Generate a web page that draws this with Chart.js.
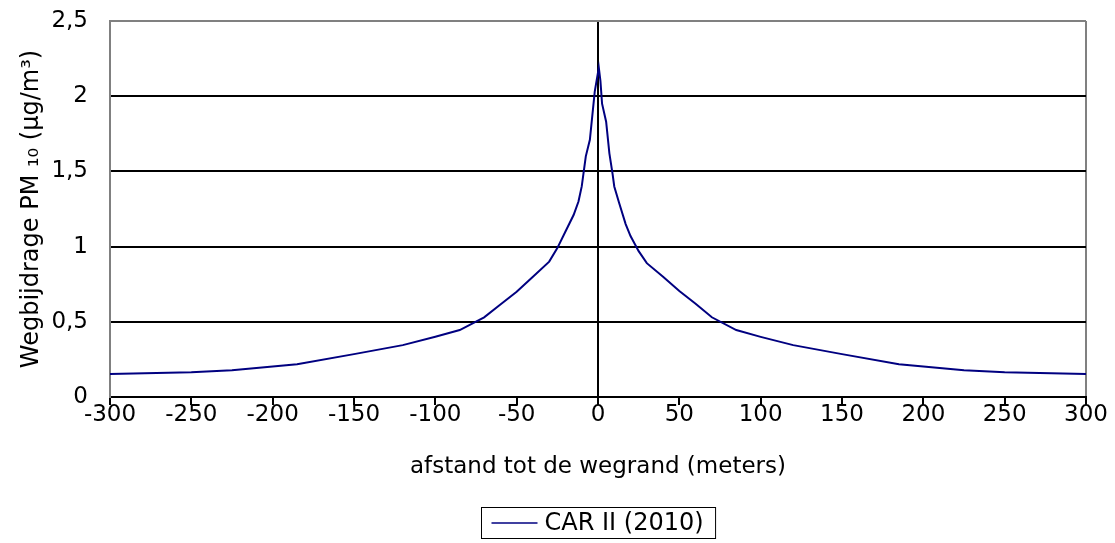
<!DOCTYPE html>
<html>
<head>
<meta charset="utf-8">
<script src="https://cdn.jsdelivr.net/npm/chart.js@4.4.1/dist/chart.umd.min.js"></script>
<style>
  html, body { margin: 0; padding: 0; background: #fff; }
  #wrap { width: 1115px; height: 543px; }
</style>
</head>
<body>
<div id="wrap"><canvas id="chart" width="1115" height="543"></canvas></div>
<script>
// distance to road edge (m) and PM10 contribution (ug/m3)
const distances = [-300,-250,-225,-185,-150,-120,-100,-85,-70,-60,
  -50,-40,-30,-25,-20,-15,-12,-10,-8.5,-7.5,
  -5,-2,0.5,1.5,2.5,5,7,9,10,13,
  17,20,25,30,40,50,60,70,85,100,
  120,150,185,225,250,300];
const pm10 = [0.153,0.165,0.178,0.218,0.285,0.345,0.40,0.445,0.53,0.615,
  0.70,0.80,0.90,0.99,1.10,1.21,1.30,1.40,1.52,1.60,
  1.71,2.03,2.19,2.10,1.95,1.83,1.62,1.48,1.40,1.29,
  1.15,1.07,0.97,0.89,0.80,0.705,0.62,0.53,0.445,0.40,
  0.345,0.285,0.218,0.178,0.165,0.153];
const seriesLabel = 'CAR II (2010)';
const xTitle = 'afstand tot de wegrand (meters)';
const yTitle = 'Wegbijdrage PM \u2081\u2080 (\u00b5g/m\u00b3)';

const FONT = 'DejaVu Sans';
const FS = 23;
Chart.defaults.font.family = FONT;
Chart.defaults.font.size = FS;
Chart.defaults.color = '#000';

// boxed legend under the axis title
const boxLegend = {
  id: 'boxLegend',
  afterDraw(chart) {
    const ctx = chart.ctx;
    const ds = chart.data.datasets[0];
    const area = chart.chartArea;
    ctx.save();
    ctx.font = '24px "' + FONT + '"';
    const tw = ctx.measureText(ds.label).width;
    const lineLen = 46, gap = 7, padL = 10, padR = 12;
    const w = padL + lineLen + gap + tw + padR;
    const left = Math.round((area.left + area.right) / 2 - w / 2) + 0.5;
    const top = 507.5, h = 31;
    ctx.strokeStyle = '#000';
    ctx.lineWidth = 1;
    ctx.strokeRect(left, top, w, h);
    const cy = top + h / 2;
    ctx.strokeStyle = ds.borderColor;
    ctx.lineWidth = 1.5;
    ctx.beginPath();
    ctx.moveTo(left + padL, cy);
    ctx.lineTo(left + padL + lineLen, cy);
    ctx.stroke();
    ctx.fillStyle = '#000';
    ctx.textBaseline = 'middle';
    ctx.textAlign = 'left';
    ctx.fillText(ds.label, left + padL + lineLen + gap, cy + 1);
    ctx.restore();
  }
};

new Chart(document.getElementById('chart'), {
  type: 'line',
  data: {
    datasets: [{
      label: seriesLabel,
      data: distances.map((d, i) => ({ x: d, y: pm10[i] })),
      borderColor: '#000080',
      borderWidth: 2,
      pointRadius: 0,
      tension: 0,
      fill: false
    }]
  },
  options: {
    responsive: false,
    animation: false,
    layout: { padding: { top: 21, right: 29, left: 0, bottom: 0 } },
    plugins: { legend: { display: false }, tooltip: { enabled: false } },
    scales: {
      x: {
        type: 'linear',
        min: -300, max: 300,
        afterFit: s => { s.height = 146; },
        ticks: { stepSize: 50, padding: -4, maxRotation: 0, autoSkip: false },
        grid: {
          color: c => (c.tick.value === -300 || c.tick.value === 300) ? '#808080' : (c.tick.value === 0 ? '#000' : 'rgba(0,0,0,0)'),
          lineWidth: 2,
          tickColor: '#000',
          tickLength: 8,
          tickWidth: 2
        },
        border: { color: '#000', width: 2 },
        title: { display: true, text: xTitle, padding: { top: 0, bottom: 62 } }
      },
      y: {
        min: 0, max: 2.5,
        afterFit: s => { s.width = 110; },
        ticks: { stepSize: 0.5, padding: 0, callback: v => String(v).replace('.', ',') },
        grid: {
          color: c => c.tick.value === 2.5 ? '#808080' : '#000',
          lineWidth: 2,
          drawTicks: true,
          tickLength: 22,
          tickColor: 'rgba(0,0,0,0)'
        },
        border: { color: '#808080', width: 2 },
        title: { display: true, text: yTitle, font: { size: 24 }, padding: { top: 17, bottom: 0 } }
      }
    }
  },
  plugins: [boxLegend]
});
</script>
</body>
</html>
